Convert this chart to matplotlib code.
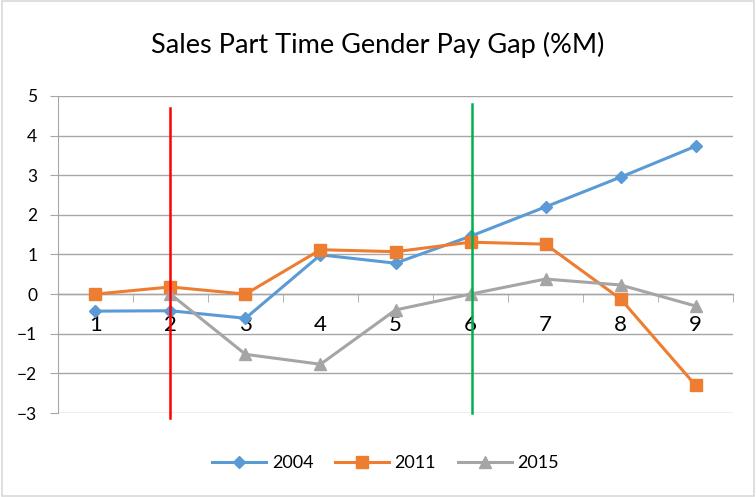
import numpy as np
import matplotlib.pyplot as plt
from matplotlib.patches import Rectangle
from matplotlib.ticker import MultipleLocator

plt.rcParams['font.family'] = ['Lato', 'DejaVu Sans']

categories = [1, 2, 3, 4, 5, 6, 7, 8, 9]
sales_2004 = [-0.43, -0.42, -0.61, 0.99, 0.78, 1.46, 2.2, 2.95, 3.73]
sales_2011 = [0.0, 0.18, 0.0, 1.12, 1.07, 1.31, 1.26, -0.12, -2.3]
sales_2015 = [np.nan, 0.0, -1.52, -1.77, -0.4, 0.0, 0.38, 0.23, -0.3]
series_names = ["2004", "2011", "2015"]

# vertical marker lines: (x position, y start, y end)
vlines = [(2, -3.12, 4.7), (6.02, -3.0, 4.8)]
vline_colors = ["#ff0000", "#00b050"]

colors = ["#5b9bd5", "#ed7d31", "#a5a5a5"]
markers = ["D", "s", "^"]
msizes = [6.5, 8.5, 8.5]

fig = plt.figure(figsize=(7.56, 4.97), dpi=100)
ax = fig.add_axes([0.0767, 0.169, 0.8929, 0.638])

x = np.array(categories)
for vals, name, c, m, ms in zip([sales_2004, sales_2011, sales_2015],
                                series_names, colors, markers, msizes):
    ax.plot(x, vals, color=c, marker=m, markersize=ms, linewidth=2.2,
            label=name, zorder=5)

for (vx, y0, y1), c in zip(vlines, vline_colors):
    ax.plot([vx, vx], [y0, y1], color=c, linewidth=1.8, zorder=6,
            clip_on=False)

ax.set_xlim(0.5, 9.5)
ax.set_ylim(-3, 5)
ax.yaxis.set_major_locator(MultipleLocator(1))
ax.grid(axis='y', color='#a6a6a6', linewidth=1.0, zorder=0)
ax.set_axisbelow(True)

for s in ['top', 'right']:
    ax.spines[s].set_visible(False)
ax.spines['left'].set_color('#a6a6a6')
ax.spines['bottom'].set_color('#a6a6a6')
ax.spines['bottom'].set_position(('data', 0))
ax.spines['bottom'].set_linewidth(1.0)

ax.set_xticks(categories)
ax.set_xticklabels([str(c) for c in categories], fontsize=16)
ax.set_xticks(np.arange(1.5, 10, 1), minor=True)
ax.tick_params(axis='x', which='major', length=0, pad=15)
ax.tick_params(axis='x', which='minor', length=6, color='#a6a6a6',
               direction='out')
ax.tick_params(axis='y', length=6, color='#a6a6a6', labelsize=12.5, pad=9)

fig.suptitle("Sales Part Time Gender Pay Gap (%M)", fontsize=19.5,
             y=0.935)

fig.legend(loc='center', bbox_to_anchor=(0.51, 0.068), ncol=3, frameon=False,
           fontsize=13, handlelength=3.0, columnspacing=1.2, handletextpad=0.3)

fig.patches.append(Rectangle((0.003, 0.003), 0.994, 0.994,
                             transform=fig.transFigure, fill=False,
                             edgecolor='#d9d9d9', linewidth=1.2))

fig.savefig("out.png", dpi=100)
